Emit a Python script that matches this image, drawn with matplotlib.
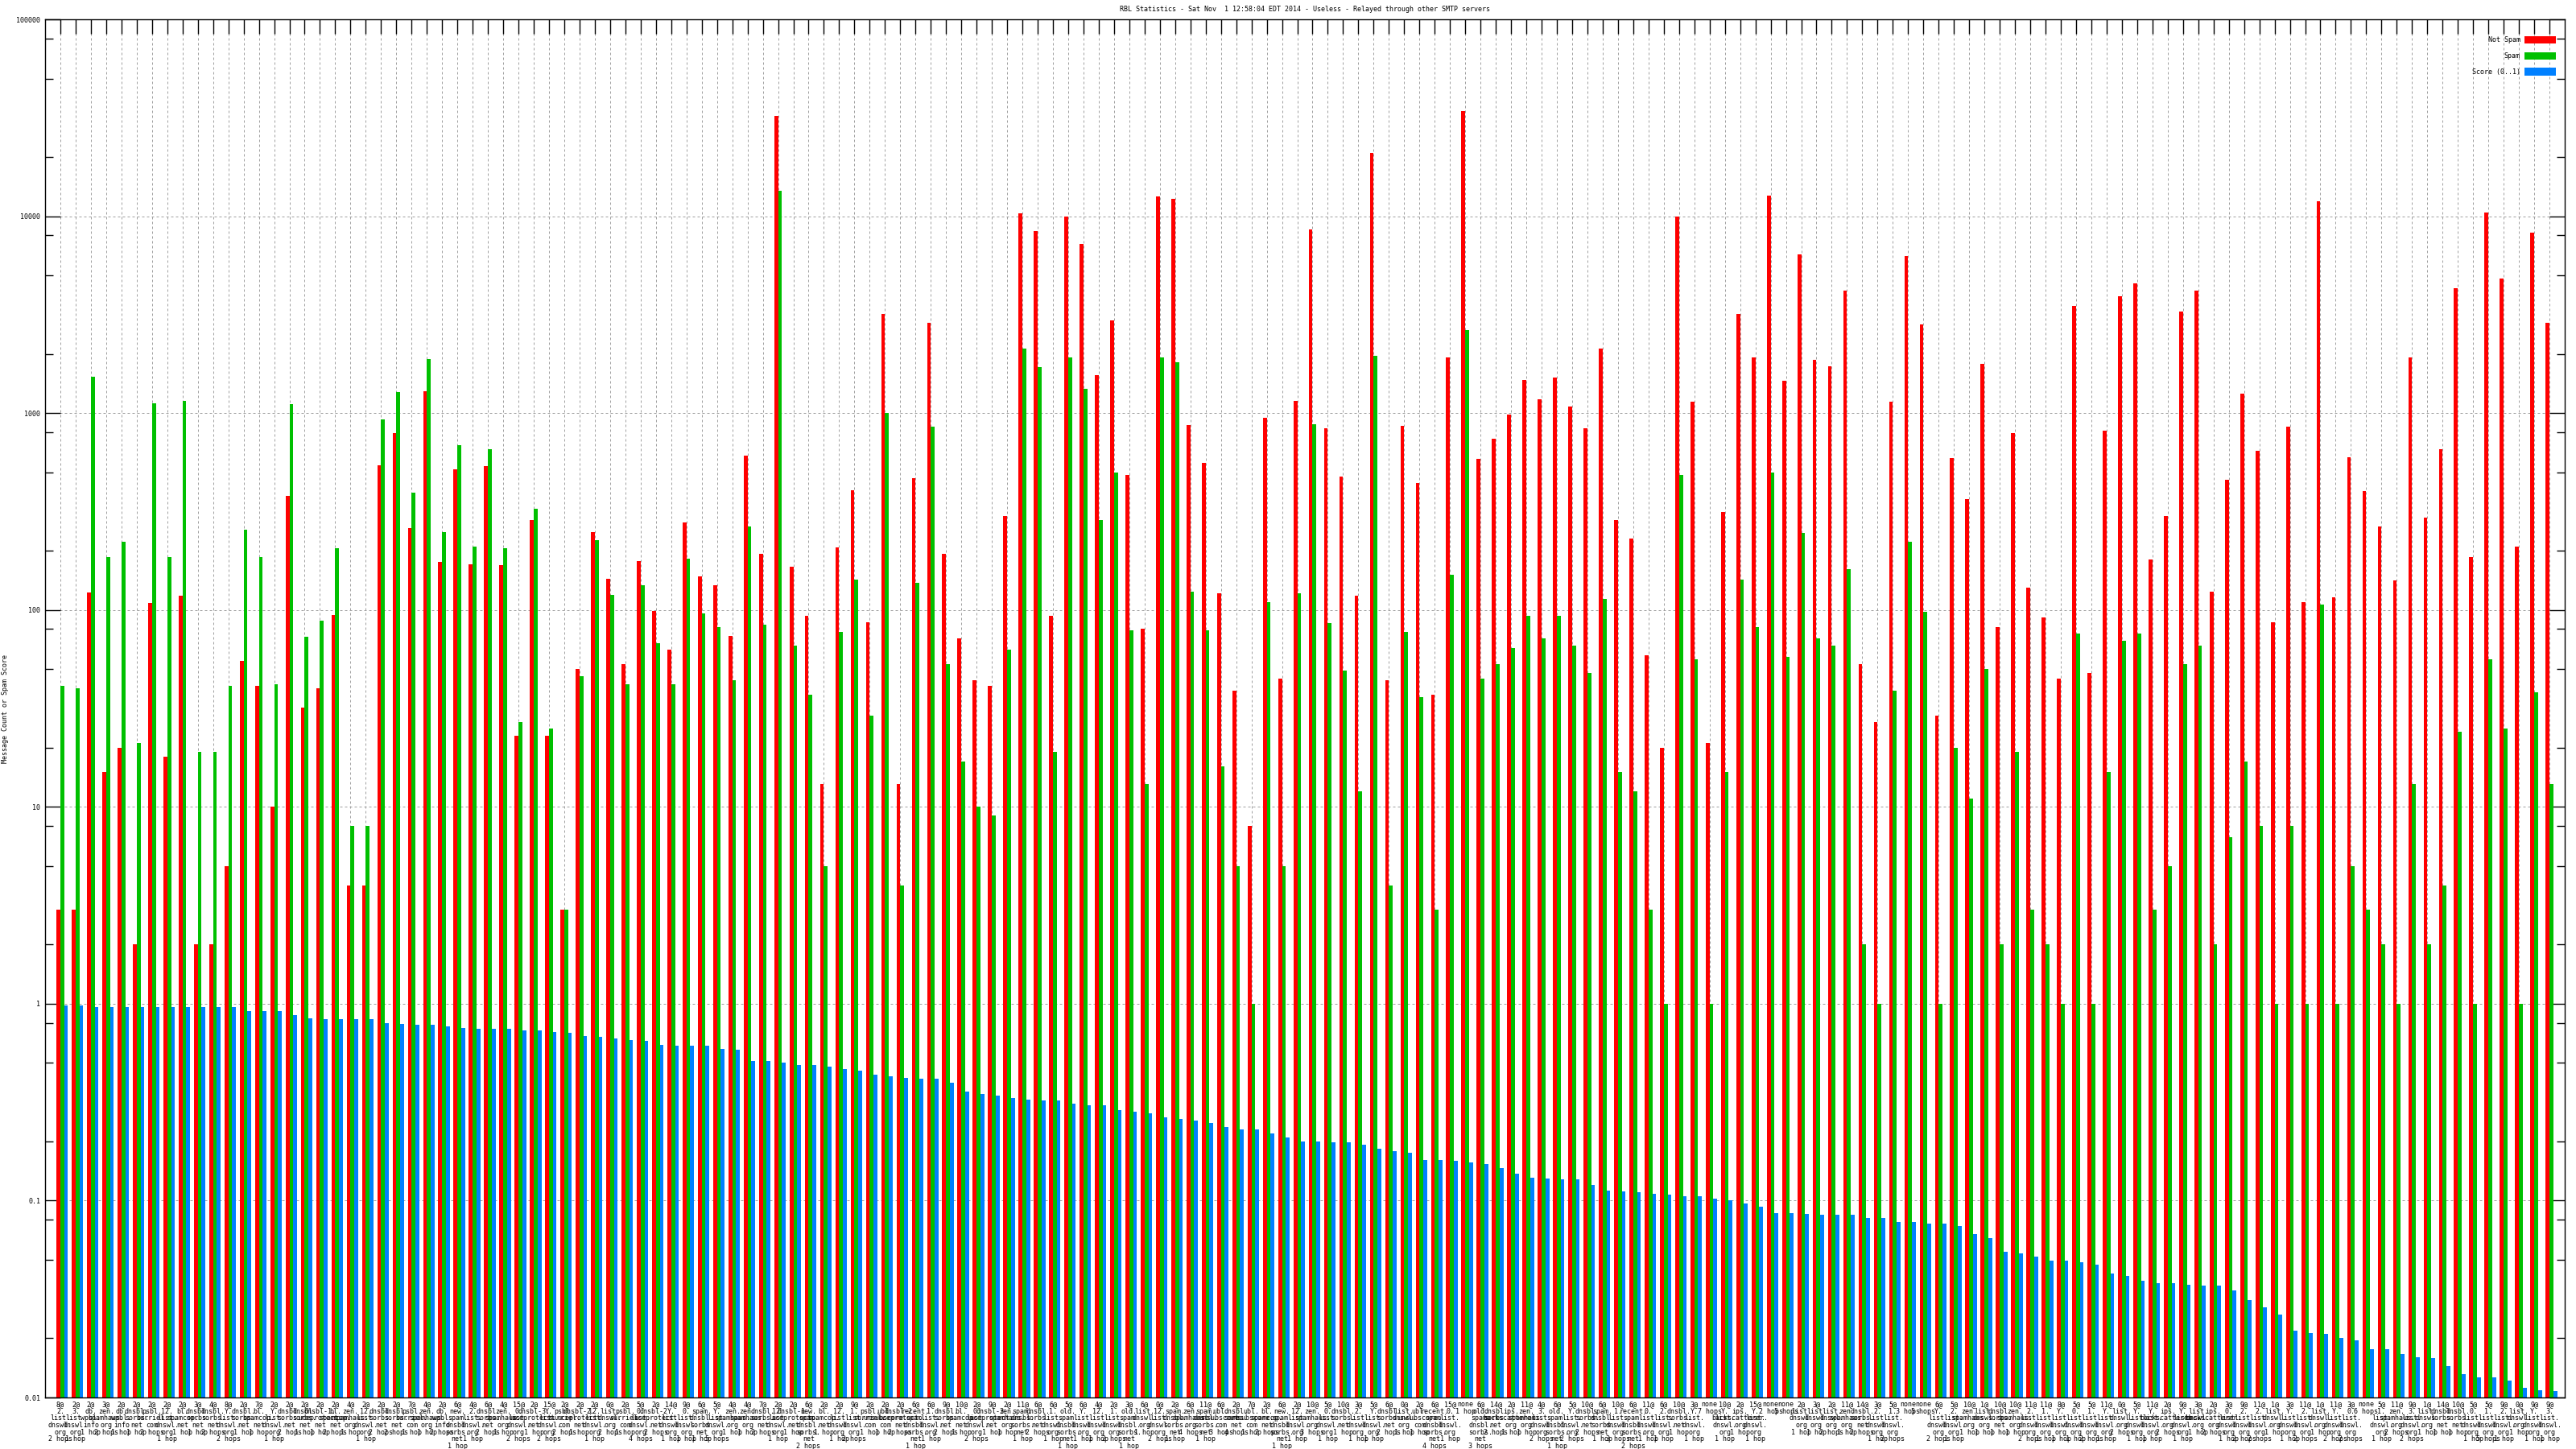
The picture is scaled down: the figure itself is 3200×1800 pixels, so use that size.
import numpy as np
import matplotlib
matplotlib.use("Agg")
import matplotlib.pyplot as plt
from matplotlib.ticker import LogLocator, NullFormatter

plt.rcParams['font.family'] = ['DejaVu Sans Mono', 'DejaVu Sans']
plt.rcParams['font.size'] = 6

TITLE = "RBL Statistics - Sat Nov  1 12:58:04 EDT 2014 - Useless - Relayed through other SMTP servers"

# messages not spam (red)
not_spam = [
    3, 3, 123, 15, 20, 2, 109, 18, 118, 2, 2, 5, 55, 41, 10, 380, 32, 40, 94, 4,
    4, 543, 793, 260, 1290, 175, 517, 171, 537, 169, 23, 285, 23, 3, 50, 248, 144, 53, 177,
    99, 63, 277, 148, 134, 74, 608, 192, 32400, 166, 93, 13, 207, 406, 87, 3200, 13, 465, 2870, 193,
    72, 44, 41, 299, 10300, 8410, 93, 9930, 7220, 1553, 2950, 486, 80, 12600, 12200, 871, 561, 122, 39, 8,
    944,
    45, 1155, 8530, 840, 476, 118, 20900, 44, 865, 443, 37, 1914, 34100, 586, 738, 979, 1476, 1172, 1510, 1075,
    840, 2130, 287, 231, 59, 20, 9930, 1138, 21, 315, 3200, 1914, 12700, 1466, 6400, 1862, 1731, 4180, 53, 27,
    1138, 6300,
    2830, 29, 590, 364, 1770, 82, 794, 130, 92, 45, 3510, 48, 811, 3910, 4550, 181, 299, 3270, 4180, 124,
    458, 1250, 644, 87, 853, 110, 11900, 116, 598, 400, 265, 141, 1914, 295, 653, 4300, 186, 10400, 4820, 210,
    8280, 2870,
]

# messages spam (green)
spam = [
    41, 40, 1534, 185, 223, 21, 1120, 185, 1150, 19, 19, 41, 256, 185, 42, 1110, 73, 88, 205, 8,
    8, 927, 1276, 396, 1885, 248, 685, 210, 656, 205, 27, 326, 25, 3, 46, 226, 119, 42, 133,
    68, 42, 182, 96, 82, 44, 265, 84, 13440, 66, 37, 5, 77, 143, 29, 1000, 4, 138, 854, 53,
    17, 10, 9, 63, 2120, 1706, 19, 1914, 1333, 285, 497, 79, 13, 1914, 1806, 124, 79, 16, 5, 1,
    110,
    5, 121, 879, 86, 49, 12, 1960, 4, 77, 36, 3, 151, 2650, 45, 53, 64, 93, 72, 93, 66,
    48, 114, 15, 12, 3, 1, 486, 56, 1, 15, 143, 82, 500, 58, 247, 72, 66, 161, 2, 1,
    39, 223,
    98, 1, 20, 11, 50, 2, 19, 3, 2, 1, 76, 1, 15, 70, 76, 3, 5, 53, 66, 2,
    7, 17, 8, 1, 8, 1, 107, 1, 5, 3, 2, 1, 13, 2, 4, 24, 1, 56, 25, 1,
    38, 13,
]

# spam score 0..1 (blue)
score = [
    0.977, 0.977, 0.965, 0.965, 0.965, 0.965, 0.965, 0.965, 0.958, 0.958, 0.958, 0.958, 0.921, 0.914, 0.914,
    0.872, 0.845, 0.839, 0.839, 0.832, 0.832, 0.800, 0.791, 0.785, 0.779, 0.770, 0.755, 0.749, 0.743, 0.743,
    0.734, 0.729, 0.720, 0.709, 0.687, 0.682, 0.664, 0.656, 0.646,
    0.619, 0.614, 0.614, 0.610, 0.591, 0.586, 0.510, 0.510, 0.500, 0.490, 0.486, 0.477, 0.468, 0.455, 0.438,
    0.426, 0.421, 0.418, 0.418, 0.396, 0.359, 0.349, 0.342, 0.331, 0.327, 0.324, 0.324, 0.312, 0.306, 0.304,
    0.287, 0.282, 0.277, 0.266, 0.261, 0.254, 0.249, 0.236, 0.229, 0.229, 0.219,
    0.209, 0.199, 0.199, 0.197, 0.197, 0.193, 0.183, 0.178, 0.175, 0.161, 0.161, 0.160, 0.157, 0.154, 0.146,
    0.137, 0.131, 0.129, 0.128, 0.128, 0.120, 0.112, 0.111, 0.110, 0.108, 0.107, 0.105, 0.105, 0.102, 0.1007,
    0.0966, 0.0929, 0.0863, 0.0863, 0.0853, 0.0846, 0.0846, 0.0846, 0.0813, 0.0813, 0.0776, 0.0776,
    0.0761, 0.0761, 0.0741, 0.0675, 0.0644, 0.0548, 0.0538, 0.0519, 0.0494, 0.0494, 0.0486, 0.0471, 0.0426,
    0.0415, 0.0391, 0.0380, 0.0380, 0.0373, 0.0370, 0.0370, 0.0349, 0.0312, 0.0288, 0.0264, 0.0219, 0.0212,
    0.0211, 0.0201, 0.0195, 0.0176, 0.0176, 0.0167, 0.0160, 0.0159, 0.0144, 0.0131, 0.0127, 0.0127, 0.0122,
    0.0112, 0.0109, 0.0108,
]

# x tick labels: return code, zone, hop count
codes = [
    "8", "2", "2", "3", "2", "2", "2", "2", "2", "3", "4", "8", "2", "7", "2", "2", "2", "2", "2", "4",
    "2", "2", "2", "7", "4", "2", "6", "4", "6", "4", "15", "2", "15", "2", "2", "2", "0", "2", "5",
    "2", "14", "9", "6", "5", "4", "4", "7", "2", "2", "6", "2", "2", "9", "2", "2", "2", "6", "6", "9",
    "10", "2", "9", "2", "11", "6", "6", "5", "6", "4", "2", "3", "6", "0", "2", "6", "11", "6", "2", "7",
    "2",
    "6", "2", "10", "5", "10", "3", "5", "6", "0", "2", "6", "15", "none", "6", "14", "2", "11", "4", "6", "5",
    "10", "6", "10", "6", "11", "6", "10", "3", "none", "10", "2", "15", "none", "none", "2", "3", "2", "11", "14", "3",
    "5", "none",
    "none", "6", "5", "10", "1", "10", "10", "11", "11", "8", "5", "5", "11", "0", "5", "11", "2", "9", "3", "2",
    "3", "9", "11", "1", "3", "11", "1", "11", "3", "none", "5", "11", "9", "1", "14", "10", "5", "5", "9", "0",
    "9", "9",
]

zones = [
    "2", "3", "db", "zen", "db", "dnsbl", "psbl", "12", "bl", "dnsbl", "dnsbl", "Y", "dnsbl", "bl", "Y",
    "dnsbl", "dnsbl", "dnsbl-1", "bl", "zen", "12", "dnsbl", "dnsbl", "psbl", "zen", "db", "new", "2", "dnsbl",
    "zen", "0", "dnsbl-3", "Y", "psbl", "dnsbl-2", "12", "list", "psbl", "0",
    "dnsbl-2", "Y", "0", "spam", "Y", "zen", "zen", "dnsbl", "12", "dnsbl-1", "new", "bl", "12", "1", "psbl",
    "ubl", "dnsbl-2", "recent", "1", "dnsbl", "bl", "0", "dnsbl-3", "zen", "spam", "dnsbl", "1", "old", "Y",
    "12", "1", "old", "list", "12", "spam", "zen", "spam", "ubl", "dnsbl", "ubl", "bl",
    "new", "12", "zen", "0", "dnsbl", "2", "Y", "dnsbl", "list", "ubl", "recent", "0", "none", "old", "dnsbl",
    "ips", "zen", "3", "old", "Y", "dnsbl", "spam", "1", "recent", "0", "2", "dnsbl", "Y", "none", "Y",
    "ips", "Y", "none", "none", "list", "list", "list", "zen", "dnsbl", "2", "1", "none",
    "none", "Y", "2", "zen", "list", "dnsbl", "zen", "2", "1", "Y", "0", "1", "Y", "list", "Y",
    "Y", "ips", "Y", "list", "ips", "0", "2", "2", "list", "Y", "2", "list", "Y", "0", "none",
    "1", "zen", "3", "list", "dnsbl", "dnsbl", "0", "1", "2", "list", "Y", "3",
]

hops = [
    2, 1, 1, 2, 1, 1, 2, 1, 1, 1, 2, 2, 1, 1, 1, 2, 1, 1, 2, 1,
    1, 2, 2, 1, 1, 2, 1, 1, 2, 1, 2, 1, 2, 2, 1, 1, 2, 1, 4,
    2, 1, 1, 1, 5, 1, 1, 2, 1, 1, 2, 1, 1, 2, 1, 1, 2, 1, 1, 2,
    1, 2, 1, 1, 1, 2, 1, 1, 1, 1, 2, 1, 1, 2, 1, 4, 1, 3, 4, 1,
    2,
    1, 1, 3, 1, 1, 1, 1, 2, 1, 1, 4, 1, 1, 3, 2, 1, 1, 2, 1, 2,
    2, 1, 3, 2, 1, 1, 1, 1, 7, 1, 1, 1, 2, 5, 1, 1, 2, 1, 2, 1,
    2, 3,
    5, 2, 1, 1, 1, 1, 1, 2, 1, 1, 1, 2, 1, 2, 1, 1, 2, 1, 1, 2,
    1, 2, 2, 1, 1, 2, 1, 2, 2, 6, 1, 2, 2, 1, 1, 1, 1, 5, 1, 1,
    1, 1,
]

DNSWL_PREFIX = ["0", "1", "2", "3", "12", "Y"]
ZONE_TEXT = {
    "list": "list.\ndnswl.\norg",
    "zen": "zen.\nspamhaus.\norg",
    "db": "db.\nwpbl.\ninfo",
    "dnsbl": "dnsbl.\nsorbs.\nnet",
    "psbl": "psbl.\nsurriel.\ncom",
    "bl": "bl.\nspamcop.\nnet",
    "dnsbl-1": "dnsbl-1.\nuceprotect.\nnet",
    "dnsbl-2": "dnsbl-2.\nuceprotect.\nnet",
    "dnsbl-3": "dnsbl-3.\nuceprotect.\nnet",
    "spam": "spam.\ndnsbl.\nsorbs.\nnet",
    "new": "new.\nspam.\ndnsbl.\nsorbs.\nnet",
    "recent": "recent.\nspam.\ndnsbl.\nsorbs.\nnet",
    "old": "old.\nspam.\ndnsbl.\nsorbs.\nnet",
    "ubl": "ubl.\nunsubscore.\ncom",
    "ips": "ips.\nbackscatterer.\norg",
}

ytick_vals = [0.01, 0.1, 1, 10, 100, 1000, 10000, 100000]
ytick_text = ["0.01", "0.1", "1", "10", "100", "1000", "10000", "100000"]


def make_label(code, zone, n_hops):
    hop_txt = "1 hop" if n_hops == 1 else f"{n_hops} hops"
    if code == "none":
        return f"none\n{hop_txt}"
    if zone in DNSWL_PREFIX:
        zone_txt = f"{zone}.\n" + ZONE_TEXT["list"]
    else:
        zone_txt = ZONE_TEXT[zone]
    return f"{code}@\n{zone_txt}\n{hop_txt}"


def main():
    W, H = 3200, 1800
    fig = plt.figure(figsize=(W / 100, H / 100), dpi=100)
    left, right, top, bottom = 56, 3186, 24, 1736
    ax = fig.add_axes([left / W, 1 - bottom / H, (right - left) / W, (bottom - top) / H])

    x = np.arange(1, len(not_spam) + 1)
    w = 0.25
    b1 = ax.bar(x - w / 2, not_spam, w, color='#ff0000', linewidth=0, antialiased=False, label='Not Spam')
    b2 = ax.bar(x + w / 2, spam, w, color='#00c000', linewidth=0, antialiased=False, label='Spam')
    b3 = ax.bar(x + 1.5 * w, score, w, color='#0080ff', linewidth=0, antialiased=False, label='Score (0..1)')

    ax.set_yscale('log')
    ax.set_ylim(0.01, 100000)
    ax.set_xlim(0, len(not_spam) + 1)

    ax.set_yticks(ytick_vals, ytick_text)
    ax.yaxis.set_minor_locator(LogLocator(base=10, subs=[2, 5, 8], numticks=20))
    ax.yaxis.set_minor_formatter(NullFormatter())

    labels = [make_label(c, z, h) for c, z, h in zip(codes, zones, hops)]
    ax.set_xticks(x)
    ax.set_xticklabels(labels, fontsize=6, linespacing=0.95, ha='center', multialignment='center')

    ax.tick_params(axis='x', which='major', direction='in', length=13, width=1.0,
                   top=True, bottom=True, pad=3)
    ax.tick_params(axis='y', which='major', direction='in', length=13.5, width=1.0,
                   left=True, right=True, pad=4, labelsize=6)
    ax.tick_params(axis='y', which='minor', direction='in', length=7, width=1.0,
                   left=True, right=True)

    ax.grid(True, which='major', axis='both', color='#a0a0a0', linestyle=(0, (3, 3)), linewidth=0.72)
    ax.set_axisbelow(True)
    for s in ax.spines.values():
        s.set_linewidth(1.0)

    fig.text((left + right) / 2 / W, 1 - 11 / H, TITLE, ha='center', va='center', fontsize=6)
    fig.text(7 / W, 1 - 880 / H, "Message Count or Spam Score", rotation=90,
             ha='center', va='center', fontsize=6)

    ax.legend(handles=[b1, b2, b3], loc='upper right', markerfirst=False, frameon=False,
              bbox_to_anchor=(3175 / W, 1 - 45 / H), bbox_transform=fig.transFigure,
              fontsize=6, handlelength=4.7, handleheight=1.3, handletextpad=0.6,
              labelspacing=1.25, borderpad=0, borderaxespad=0)

    fig.savefig("out.png", dpi=100)
    plt.close(fig)


if __name__ == '__main__':
    main()
